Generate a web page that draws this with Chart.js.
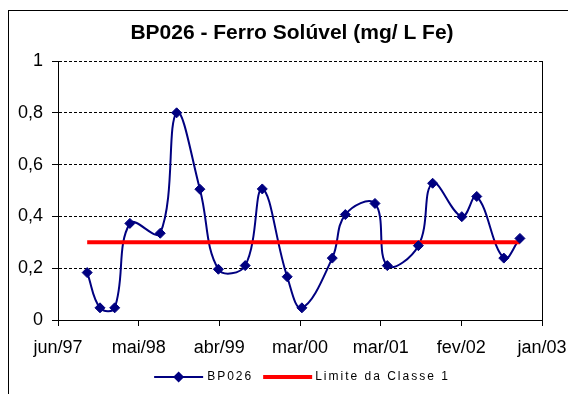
<!DOCTYPE html>
<html><head><meta charset="utf-8">
<script src="https://cdn.jsdelivr.net/npm/chart.js@4"></script>
<style>html,body{margin:0;padding:0;background:#fff;overflow:hidden}canvas{display:block}</style>
</head><body>
<canvas id="c" width="568" height="394"></canvas>
<script>
const chartTitle = 'BP026 - Ferro Solúvel (mg/ L Fe)';
const seriesName = 'BP026';
const limitName = 'Limite da Classe 1';
const axisStart = '1997-06-15';
const axisEnd = '2003-01-15';
const xTickLabels = ['jun/97','mai/98','abr/99','mar/00','mar/01','fev/02','jan/03'];
const yTickLabels = ['0','0,2','0,4','0,6','0,8','1'];
const sampleDates = ['1997-10-16','1997-12-09','1998-02-09','1998-04-14','1998-08-20','1998-10-28',
  '1999-02-03','1999-04-22','1999-08-13','1999-10-24','2000-02-06','2000-04-08','2000-08-14',
  '2000-10-08','2001-02-10','2001-04-03','2001-08-12','2001-10-11','2002-02-11','2002-04-15',
  '2002-08-07','2002-10-14'];
const ironValues = [0.183,0.047,0.047,0.373,0.335,0.80,0.505,0.196,0.21,0.506,0.167,0.047,0.239,
  0.407,0.45,0.21,0.287,0.528,0.399,0.477,0.239,0.315];
const limitValue = 0.3;

const FONT = 'Arial, "Liberation Sans", sans-serif';
const NAVY = '#000080';
const RED = '#ff0000';
const dayOf = s => Math.round((Date.parse(s + 'T00:00:00Z') - Date.parse(axisStart + 'T00:00:00Z')) / 864e5);
const xMax = dayOf(axisEnd);
const xStep = xMax / (xTickLabels.length - 1);
const yStep = 1 / (yTickLabels.length - 1);

const seriesPts = sampleDates.map((d, i) => ({x: dayOf(d), y: ironValues[i]}));
const limitPts = [{x: dayOf(sampleDates[0]), y: limitValue}, {x: dayOf(sampleDates[sampleDates.length - 1]), y: limitValue}];

Chart.defaults.color = '#000';
Chart.defaults.font.family = FONT;

const decor = {
  id: 'decor',
  beforeDraw(chart) {
    const ctx = chart.ctx;
    ctx.save();
    ctx.fillStyle = '#fff';
    ctx.fillRect(0, 0, chart.width, chart.height);
    ctx.strokeStyle = '#000';
    ctx.lineWidth = 1;
    ctx.strokeRect(8.5, 10.5, chart.width + 20, chart.height + 20);
    ctx.restore();
  },
  afterDraw(chart) {
    const ctx = chart.ctx;
    const ca = chart.chartArea;
    ctx.save();
    ctx.font = '12px ' + FONT;
    ctx.letterSpacing = '2px';
    ctx.textBaseline = 'middle';
    ctx.textAlign = 'left';
    const mW = 49;
    const w1 = ctx.measureText(seriesName).width;
    const w2 = ctx.measureText(limitName).width;
    const total = mW + 4 + w1 + 10 + mW + 3 + w2;
    let x = (ca.left + ca.right) / 2 + 2 - total / 2;
    const y = 377;
    ctx.strokeStyle = NAVY; ctx.lineWidth = 2;
    ctx.beginPath(); ctx.moveTo(x, y); ctx.lineTo(x + mW, y); ctx.stroke();
    ctx.fillStyle = NAVY;
    const cx = x + mW / 2, r = 5.5;
    ctx.beginPath(); ctx.moveTo(cx, y - r); ctx.lineTo(cx + r, y); ctx.lineTo(cx, y + r); ctx.lineTo(cx - r, y); ctx.closePath(); ctx.fill();
    x += mW + 4;
    ctx.fillStyle = '#000';
    ctx.fillText(seriesName, x, y);
    x += w1 + 10;
    ctx.strokeStyle = RED; ctx.lineWidth = 4;
    ctx.beginPath(); ctx.moveTo(x, y); ctx.lineTo(x + mW, y); ctx.stroke();
    x += mW + 3;
    ctx.fillStyle = '#000';
    ctx.fillText(limitName, x, y);
    ctx.restore();
  }
};

new Chart(document.getElementById('c'), {
  type: 'scatter',
  data: {
    datasets: [
      {label: seriesName, data: seriesPts, showLine: true, borderColor: NAVY, borderWidth: 2,
       pointRadius: 0, tension: 0.4, order: 3},
      {label: limitName, data: limitPts, showLine: true, borderColor: RED, borderWidth: 4,
       pointRadius: 0, tension: 0, borderCapStyle: 'butt', order: 2},
      {label: seriesName + ' markers', data: seriesPts, showLine: false, pointStyle: 'rectRot',
       pointRadius: 5, pointBorderWidth: 1, backgroundColor: NAVY, borderColor: NAVY, order: 1}
    ]
  },
  options: {
    responsive: false,
    animation: false,
    events: [],
    layout: {padding: {left: 16, right: 0, top: 0, bottom: 0}},
    plugins: {
      legend: {display: false},
      tooltip: {enabled: false},
      title: {display: true, text: chartTitle, color: '#000',
        font: {size: 21, weight: 'bold', family: FONT, lineHeight: 1.2},
        padding: {top: 21, bottom: 14.8}}
    },
    scales: {
      x: {
        type: 'linear', position: 'bottom', min: 0, max: xMax,
        afterFit: s => { s.height = 74; },
        ticks: {stepSize: xStep, autoSkip: false, maxRotation: 0, padding: 0,
          font: {size: 18, family: FONT, lineHeight: 2.5}, color: '#000',
          callback: v => { const i = Math.round(v / xStep); return Math.abs(v - i * xStep) < 1e-6 ? xTickLabels[i] : ''; }},
        grid: {color: c => (c.index === xTickLabels.length - 1 ? '#000' : 'rgba(0,0,0,0)'),
          tickColor: '#000', tickLength: 6, lineWidth: 1, drawOnChartArea: true},
        border: {display: true, color: '#000', width: 1}
      },
      y: {
        type: 'linear', position: 'left', min: 0, max: 1,
        afterFit: s => { s.width = 42; },
        ticks: {stepSize: yStep, padding: 9, font: {size: 18, family: FONT}, color: '#000',
          callback: v => yTickLabels[Math.round(v / yStep)]},
        grid: {color: '#000', tickColor: '#000', tickLength: 6, lineWidth: 1, tickBorderDash: []},
        border: {display: true, color: '#000', width: 1, dash: [3, 2]}
      },
      yR: {
        type: 'linear', position: 'right', display: true,
        afterFit: s => { s.width = 26; },
        ticks: {display: false},
        grid: {display: false, drawTicks: false},
        border: {display: false}
      }
    }
  },
  plugins: [decor]
});
</script>
</body></html>
